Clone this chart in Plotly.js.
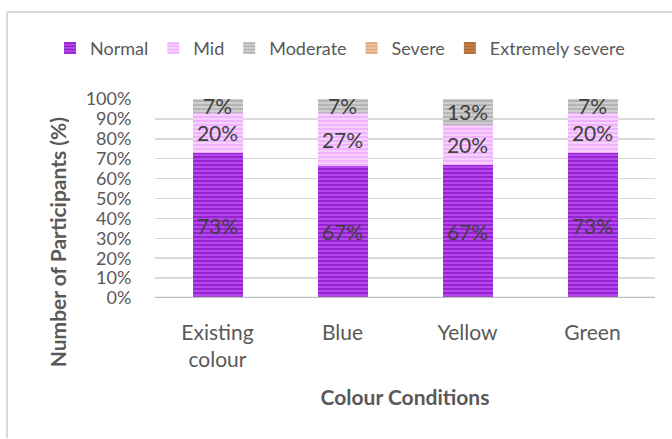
<!DOCTYPE html>
<html>
<head>
<meta charset="utf-8">
<script src="https://cdn.plot.ly/plotly-3.0.1.min.js"></script>
<style>html,body{margin:0;padding:0;background:#fff;}#chart{width:672px;height:439px;}</style>
</head>
<body>
<div id="chart"></div>
<script>
const categories = ["Existing<br>colour", "Blue", "Yellow", "Green"];
const seriesNames = ["Normal", "Mid", "Moderate", "Severe", "Extremely severe"];
const normal = [73, 67, 67, 73];
const mid = [20, 27, 20, 20];
const moderate = [7, 7, 13, 7];
const severe = [0, 0, 0, 0];
const extremelySevere = [0, 0, 0, 0];
const yTickVals = [0, 10, 20, 30, 40, 50, 60, 70, 80, 90, 100];
const yTickText = ["0%", "10%", "20%", "30%", "40%", "50%", "60%", "70%", "80%", "90%", "100%"];

const seriesValues = [normal, mid, moderate, severe, extremelySevere];
const styles = [
  {bg: "#b447ee", fg: "#7600ae"},
  {bg: "#f8d0ff", fg: "#e596fb"},
  {bg: "#cfcfcf", fg: "#9c9c9c"},
  {bg: "#ebc49c", fg: "#d3975f"},
  {bg: "#c0824c", fg: "#955624"}
];

const font = "Lato, 'Open Sans', sans-serif";
const traces = seriesNames.map((name, i) => ({
  type: "bar",
  name: name,
  x: categories,
  y: seriesValues[i],
  text: seriesValues[i].map(v => v > 0 ? v + "%" : ""),
  textposition: "inside",
  insidetextanchor: "middle",
  constraintext: "none",
  cliponaxis: false,
  textfont: {family: font, size: 21, color: "#404040"},
  hoverinfo: "skip",
  marker: {
    color: styles[i].bg,
    line: {width: 0},
    pattern: {shape: "-", bgcolor: styles[i].bg, fgcolor: styles[i].fg, size: 4, solidity: 0.5, fillmode: "overlay"}
  }
}));

const layout = {
  width: 672, height: 439,
  margin: {l: 155, r: 17, t: 99, b: 141, autoexpand: false},
  barmode: "stack",
  barnorm: "percent",
  bargap: 0.6,
  paper_bgcolor: "#ffffff",
  plot_bgcolor: "#ffffff",
  font: {family: font, color: "#595959"},
  showlegend: true,
  legend: {
    orientation: "h", xref: "paper", x: -0.21, xanchor: "left", y: 1.255, yanchor: "middle",
    font: {family: font, size: 18, color: "#595959"},
    itemwidth: 30, traceorder: "normal"
  },
  xaxis: {
    type: "category",
    tickfont: {family: font, size: 21, color: "#595959"},
    showgrid: false, showline: false, zeroline: false, ticks: "",
    ticklabelstandoff: 20,
    title: {text: "<b>Colour Conditions</b>", font: {family: font, size: 21, color: "#595959"}, standoff: 20}
  },
  yaxis: {
    range: [0, 100],
    tickvals: yTickVals,
    ticktext: yTickText,
    tickfont: {family: font, size: 18, color: "#595959"},
    showgrid: true, gridcolor: "#d9d9d9", gridwidth: 1.5,
    zeroline: false, showline: false,
    ticks: "outside", ticklen: 19, tickcolor: "rgba(0,0,0,0)"
  },
  shapes: [
    {type: "line", xref: "paper", yref: "y", x0: 0, x1: 1, y0: 0, y1: 0, line: {color: "#bfbfbf", width: 2.5}, layer: "above"},
    {type: "line", xref: "paper", yref: "paper", x0: -0.296, x1: -0.296, y0: -0.705, y1: 1.437, line: {color: "#d9d9d9", width: 2}},
    {type: "line", xref: "paper", yref: "paper", x0: -0.296, x1: 1.04, y0: 1.437, y1: 1.437, line: {color: "#d9d9d9", width: 2}}
  ],
  annotations: [
    {xref: "paper", yref: "paper", x: -0.196, y: 0.28, xanchor: "center", yanchor: "middle",
     text: "<b>Number of Participants (%)</b>", textangle: -90, showarrow: false,
     font: {family: font, size: 21, color: "#595959"}}
  ]
};

Plotly.newPlot("chart", traces, layout, {staticPlot: true, displayModeBar: false});
</script>
</body>
</html>
